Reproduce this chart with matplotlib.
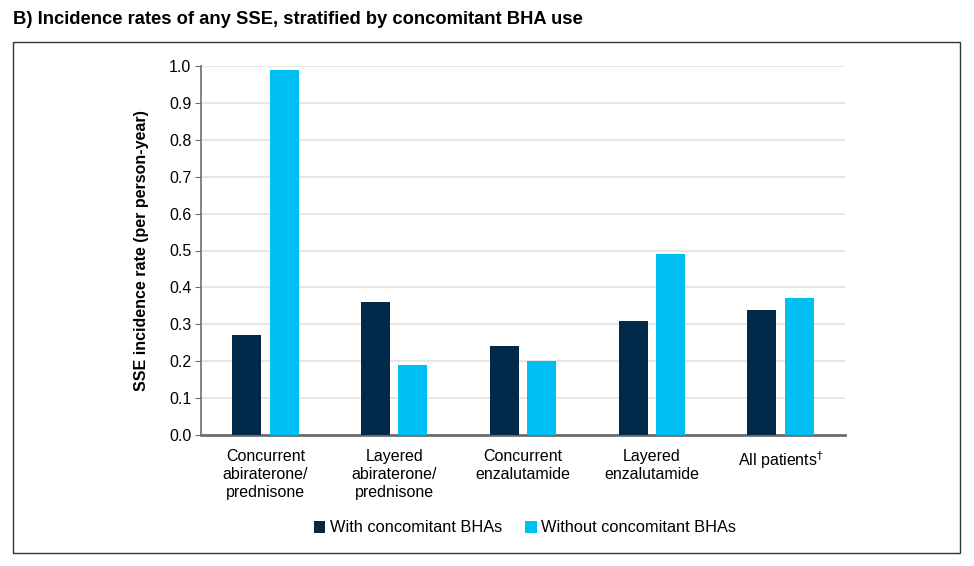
import numpy as np
import matplotlib.pyplot as plt
from matplotlib.patches import Rectangle

categories = ["Concurrent\nabiraterone/\nprednisone", "Layered\nabiraterone/\nprednisone",
              "Concurrent\nenzalutamide", "Layered\nenzalutamide", "All patients$^{\\dagger}$"]
with_bha = [0.27, 0.36, 0.24, 0.31, 0.34]
without_bha = [0.99, 0.19, 0.20, 0.49, 0.37]
yticks = np.arange(0, 1.01, 0.1)

navy = "#012a4a"
cyan = "#00bff2"

plt.rcParams['font.family'] = ['Liberation Sans', 'DejaVu Sans']

fig = plt.figure(figsize=(9.74, 5.66), dpi=100)
ax = fig.add_axes([201/974, 131/566, 644/974, 369/566])

x = np.arange(len(categories))
w = 0.225
ax.bar(x - 0.145, with_bha, w, color=navy, label="With concomitant BHAs", zorder=3)
ax.bar(x + 0.145, without_bha, w, color=cyan, label="Without concomitant BHAs", zorder=3)

ax.set_xlim(-0.5, 4.5)
ax.set_ylim(0, 1.0)
ax.set_yticks(yticks)
ax.set_yticklabels([f"{v:.1f}" for v in yticks], fontsize=11.5)
ax.set_xticks(x)
ax.set_xticklabels(categories, fontsize=11.5, linespacing=1.25, va="top")
ax.tick_params(axis="x", length=0, pad=10)
ax.tick_params(axis="y", length=4, color="#6d6d6d", pad=3)
ax.grid(axis="y", color="#e3e3e3", lw=1.2, zorder=0)
for s in ["top", "right"]:
    ax.spines[s].set_visible(False)
ax.spines["left"].set_color("#6d6d6d")
ax.spines["left"].set_linewidth(1.2)
ax.spines["bottom"].set_color("#6d6d6d")
ax.spines["bottom"].set_linewidth(2)
ax.set_ylabel("SSE incidence rate (per person-year)", fontsize=11.5, fontweight="bold", labelpad=14)

fig.legend(loc="center", bbox_to_anchor=(525/974, 1 - 528/566), ncol=2, frameon=False,
           fontsize=11.8, handlelength=0.7, handleheight=0.7, handletextpad=0.3,
           columnspacing=1.4)

fig.patches.append(Rectangle((13/974, 1 - 553/566), 947/974, 511/566, transform=fig.transFigure,
                             fill=False, edgecolor="#333333", lw=1))
fig.text(13/974, 1 - 19/566, "B) Incidence rates of any SSE, stratified by concomitant BHA use",
         fontsize=13.2, fontweight="bold", va="center", ha="left")

fig.savefig("out.png", dpi=100)
